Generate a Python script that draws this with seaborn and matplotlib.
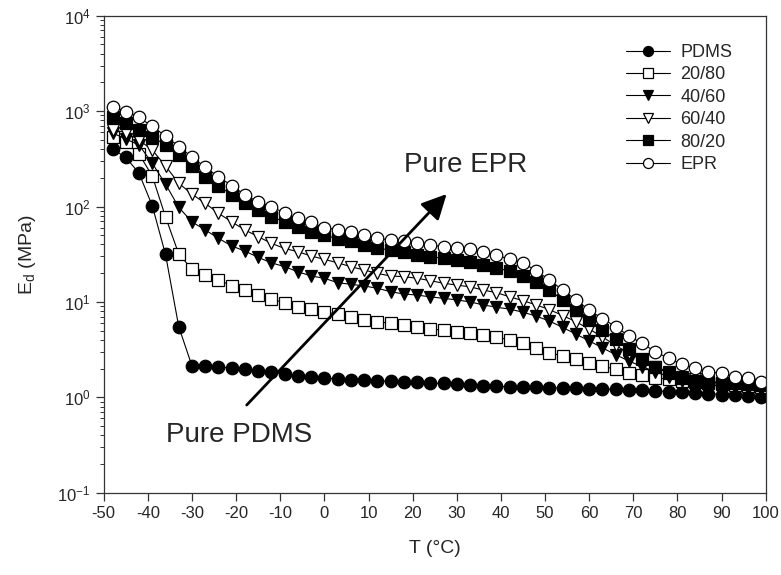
import matplotlib
matplotlib.use("Agg")
import matplotlib.pyplot as plt
import seaborn as sns
import pandas as pd

# temperature (deg C) of each measurement
temps = [-48, -45, -42, -39, -36, -33, -30, -27, -24, -21,
         -18, -15, -12, -9, -6, -3, 0, 3, 6, 9,
         12, 15, 18, 21, 24, 27, 30, 33, 36, 39,
         42, 45, 48, 51, 54, 57, 60, 63, 66, 69,
         72, 75, 78, 81, 84, 87, 90, 93, 96, 99]

# Ed (MPa)
pdms = [398, 328, 223, 102, 31.5, 5.5, 2.13, 2.15, 2.09, 2.02,
        1.96, 1.90, 1.83, 1.76, 1.69, 1.64, 1.59, 1.56, 1.53, 1.51,
        1.49, 1.47, 1.46, 1.44, 1.41, 1.40, 1.38, 1.35, 1.32, 1.30,
        1.29, 1.28, 1.27, 1.26, 1.25, 1.24, 1.23, 1.22, 1.21, 1.20,
        1.19, 1.17, 1.15, 1.13, 1.11, 1.09, 1.07, 1.05, 1.03, 1.01]
b20_80 = [540, 470, 355, 209, 78, 31.8, 22.0, 19.3, 17.0, 14.8,
          13.3, 11.8, 10.7, 9.8, 8.9, 8.4, 7.9, 7.4, 7.0, 6.5,
          6.2, 5.97, 5.7, 5.5, 5.2, 5.07, 4.87, 4.68, 4.5, 4.26,
          4.0, 3.68, 3.26, 2.94, 2.71, 2.5, 2.31, 2.13, 1.96, 1.81,
          1.71, 1.6, 1.55, 1.5, 1.45, 1.4, 1.37, 1.34, 1.31, 1.28]
b40_60 = [590, 510, 441, 284, 172, 98, 69, 56.8, 46.4, 38.6,
          34.1, 29.3, 25.7, 23.4, 20.7, 18.7, 17.7, 15.9, 15.3, 14.7,
          13.9, 12.8, 12.1, 11.8, 11.3, 10.9, 10.5, 10.0, 9.3, 8.8,
          8.4, 7.8, 7.1, 6.3, 5.4, 4.6, 3.9, 3.3, 2.8, 2.4,
          2.1, 1.85, 1.65, 1.5, 1.42, 1.36, 1.3, 1.26, 1.22, 1.2]
b60_40 = [640, 594, 498, 391, 266, 175, 135, 108, 85, 69,
          56.8, 48.3, 41.1, 36.3, 33.6, 30.3, 27.9, 25.7, 23.4, 21.6,
          19.9, 18.7, 18.4, 17.7, 16.7, 15.7, 15.0, 14.4, 13.3, 12.5,
          11.3, 10.3, 9.3, 8.3, 7.2, 6.2, 5.2, 4.3, 3.5, 2.9,
          2.45, 2.1, 1.85, 1.65, 1.55, 1.48, 1.42, 1.38, 1.34, 1.3]
b80_20 = [870, 745, 640, 540, 440, 345, 265, 205, 166, 132,
          110, 92, 78, 69, 61, 54, 50, 46, 43, 39.5,
          36.5, 35, 33.6, 31, 29.8, 28.6, 27.5, 26.4, 24.4, 22.5,
          21.2, 18.7, 16.3, 13.3, 10.5, 8.2, 6.5, 5.1, 4.05, 3.2,
          2.5, 2.07, 1.79, 1.58, 1.5, 1.45, 1.42, 1.4, 1.38, 1.35]
epr = [1110, 990, 860, 690, 550, 425, 330, 258, 204, 166,
       132, 112, 100, 85, 75, 68, 60, 57, 54, 50,
       46.5, 44.5, 43, 41.5, 39.5, 38, 37, 35.6, 33.6, 31,
       27.9, 25.7, 21.2, 17.0, 13.3, 10.5, 8.2, 6.7, 5.5, 4.4,
       3.68, 3.0, 2.56, 2.22, 2.01, 1.85, 1.79, 1.64, 1.58, 1.46]

labels = ["PDMS", "20/80", "40/60", "60/40", "80/20", "EPR"]
series = [pdms, b20_80, b40_60, b60_40, b80_20, epr]
markers = ["o", "s", "v", "v", "s", "o"]
filled = [True, False, True, False, True, False]

sns.set_style("ticks")
plt.rcParams["font.family"] = ["Liberation Sans", "DejaVu Sans"]
plt.rcParams["mathtext.fontset"] = "custom"
plt.rcParams["mathtext.rm"] = "Liberation Sans"
plt.rcParams["axes.unicode_minus"] = False

fig, ax = plt.subplots(figsize=(7.81, 5.75), dpi=100)
fig.subplots_adjust(left=0.1328, right=0.9804, top=0.9727, bottom=0.1431)

for lab, vals, m, f in zip(labels, series, markers, filled):
    df = pd.DataFrame({"T": temps, "Ed": vals})
    ms = 9 if m == "o" else 8.5
    sns.lineplot(data=df, x="T", y="Ed", ax=ax, color="black", lw=0.8,
                 marker=m, ms=ms, mec="black", mew=0.9,
                 mfc="black" if f else "white", label=lab, errorbar=None)

ax.set_yscale("log")
ax.set_xlim(-50, 100)
ax.set_ylim(0.1, 1e4)
ax.set_xticks(range(-50, 101, 10))
ax.tick_params(axis="both", which="major", direction="out", length=6,
               width=0.9, labelsize=12, color="#333333")
ax.tick_params(axis="y", which="minor", direction="out", length=3,
               width=0.7, color="#333333")
ax.tick_params(axis="x", which="minor", bottom=False)
for sp in ax.spines.values():
    sp.set_linewidth(0.9)
    sp.set_color("#333333")

ax.set_xlabel("T (°C)", fontsize=14, labelpad=14)
ax.set_ylabel("E$_\\mathregular{d}$ (MPa)", fontsize=14, labelpad=14)

# arrow from pure PDMS to pure EPR
ax.annotate("", xy=(27.7, 135), xytext=(-17.6, 0.83),
            arrowprops=dict(arrowstyle="-|>", color="black", lw=2,
                            mutation_scale=38, shrinkA=0, shrinkB=0))
ax.text(18.0, 230, "Pure EPR", fontsize=20, ha="left", va="baseline")
ax.text(-35.9, 0.342, "Pure PDMS", fontsize=20, ha="left", va="baseline")

ax.legend(loc="upper left", bbox_to_anchor=(0.765, 0.975), frameon=False,
          fontsize=13, handlelength=2.4, labelspacing=0.3, handletextpad=0.6,
          markerscale=0.8)

fig.savefig("out.png", dpi=100)
